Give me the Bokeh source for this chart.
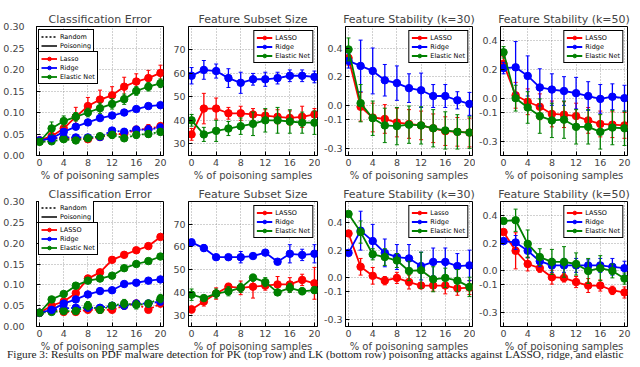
from bokeh.plotting import figure
from bokeh.models import (Legend, LegendItem, FixedTicker, Range1d, Div,
                          PrintfTickFormatter)
from bokeh.layouts import column, row
from bokeh.embed import file_html
from bokeh.resources import INLINE

# ---------------- data ----------------
x_pct = [0, 2, 4, 6, 8, 10, 12, 14, 16, 18, 20]
x_ticks = [0, 4, 8, 12, 16, 20]

titles = ["Classification Error", "Feature Subset Size",
          "Feature Stability (k=30)", "Feature Stability (k=50)"]
x_label = "% of poisoning samples"
caption = ("Figure 3: Results on PDF malware detection for PK (top row) and LK (bottom row) "
           "poisoning attacks against LASSO, ridge, and elastic")

ce_ticks = [0.0, 0.05, 0.10, 0.15, 0.20, 0.25, 0.30]
fs_ticks = [30, 40, 50, 60, 70]
st_ticks = [0.4, 0.2, 0.0, -0.1, -0.3]

# ---- top row (PK) ----
ce1_lasso_p = [0.035, 0.045, 0.063, 0.090, 0.115, 0.130, 0.140, 0.160, 0.172, 0.180, 0.192]
ce1_lasso_p_err = [0.004, 0.008, 0.010, 0.022, 0.020, 0.022, 0.020, 0.022, 0.018, 0.018, 0.018]
ce1_ridge_p = [0.035, 0.040, 0.055, 0.067, 0.077, 0.087, 0.093, 0.100, 0.108, 0.115, 0.117]
ce1_ridge_p_err = [0.003, 0.004, 0.004, 0.004, 0.004, 0.005, 0.004, 0.004, 0.003, 0.004, 0.003]
ce1_enet_p = [0.032, 0.063, 0.080, 0.090, 0.100, 0.110, 0.120, 0.131, 0.150, 0.160, 0.168]
ce1_enet_p_err = [0.004, 0.015, 0.012, 0.010, 0.010, 0.012, 0.012, 0.012, 0.010, 0.010, 0.010]
ce1_lasso_r = [0.035, 0.040, 0.040, 0.040, 0.038, 0.043, 0.050, 0.050, 0.060, 0.062, 0.068]
ce1_lasso_r_err = [0.003, 0.004, 0.006, 0.005, 0.006, 0.006, 0.008, 0.010, 0.008, 0.010, 0.008]
ce1_ridge_r = [0.035, 0.040, 0.042, 0.042, 0.042, 0.043, 0.058, 0.055, 0.060, 0.060, 0.065]
ce1_ridge_r_err = [0.003, 0.004, 0.005, 0.005, 0.005, 0.006, 0.006, 0.008, 0.008, 0.010, 0.008]
ce1_enet_r = [0.032, 0.033, 0.038, 0.035, 0.040, 0.045, 0.048, 0.040, 0.048, 0.050, 0.055]
ce1_enet_r_err = [0.003, 0.004, 0.005, 0.005, 0.006, 0.006, 0.008, 0.006, 0.008, 0.008, 0.008]

fs1_lasso = [34, 45, 45, 43, 43, 42.5, 42, 41.5, 41, 41.5, 42.5]
fs1_lasso_err = [2.5, 6.5, 4.5, 2.5, 3, 2.5, 2.5, 3, 3, 4.5, 2.5]
fs1_ridge = [59, 61.5, 61, 58, 56, 57.5, 57.5, 58, 59, 59, 58.5]
fs1_ridge_err = [3.5, 4, 3, 4, 4.5, 2.5, 3, 2.5, 2.5, 2.5, 2.5]
fs1_enet = [40, 34, 35.5, 36.5, 37.5, 38.5, 40, 40, 39.5, 39, 39]
fs1_enet_err = [2.5, 3, 4.5, 3, 3.5, 5, 5, 5.5, 5, 4.5, 5]

s30_1_lasso = [0.33, -0.01, -0.085, -0.095, -0.12, -0.13, -0.14, -0.16, -0.18, -0.185, -0.19]
s30_1_lasso_err = [0.05, 0.10, 0.10, 0.10, 0.10, 0.10, 0.10, 0.10, 0.10, 0.10, 0.10]
s30_1_ridge = [0.31, 0.275, 0.24, 0.175, 0.155, 0.12, 0.105, 0.065, 0.065, 0.035, 0.01]
s30_1_ridge_err = [0.05, 0.18, 0.16, 0.11, 0.12, 0.10, 0.12, 0.08, 0.08, 0.06, 0.08]
s30_1_enet = [0.39, 0.015, -0.09, -0.14, -0.145, -0.135, -0.14, -0.16, -0.175, -0.185, -0.19]
s30_1_enet_err = [0.08, 0.13, 0.12, 0.12, 0.13, 0.13, 0.13, 0.13, 0.13, 0.12, 0.11]

s50_1_lasso = [0.24, 0.02, -0.025, -0.06, -0.11, -0.115, -0.125, -0.155, -0.18, -0.185, -0.19]
s50_1_lasso_err = [0.05, 0.09, 0.09, 0.09, 0.09, 0.09, 0.09, 0.09, 0.09, 0.09, 0.09]
s50_1_ridge = [0.21, 0.215, 0.155, 0.075, 0.06, 0.05, 0.035, 0.015, -0.005, 0.01, 0.0]
s50_1_ridge_err = [0.04, 0.18, 0.14, 0.13, 0.11, 0.10, 0.11, 0.10, 0.10, 0.09, 0.09]
s50_1_enet = [0.32, 0.0, -0.065, -0.125, -0.155, -0.15, -0.2, -0.2, -0.235, -0.205, -0.21]
s50_1_enet_err = [0.04, 0.09, 0.11, 0.12, 0.12, 0.13, 0.12, 0.12, 0.12, 0.12, 0.12]

# ---- bottom row (LK) ----
ce2_lasso_p = [0.033, 0.050, 0.060, 0.080, 0.115, 0.130, 0.160, 0.172, 0.183, 0.193, 0.215]
ce2_lasso_p_err = [0.003, 0.004, 0.005, 0.005, 0.008, 0.006, 0.004, 0.003, 0.003, 0.003, 0.003]
ce2_ridge_p = [0.033, 0.040, 0.055, 0.065, 0.077, 0.085, 0.087, 0.102, 0.105, 0.110, 0.113]
ce2_ridge_p_err = [0.003, 0.003, 0.003, 0.003, 0.003, 0.003, 0.003, 0.003, 0.003, 0.003, 0.003]
ce2_enet_p = [0.033, 0.065, 0.078, 0.098, 0.110, 0.115, 0.122, 0.140, 0.150, 0.157, 0.168]
ce2_enet_p_err = [0.003, 0.004, 0.004, 0.006, 0.006, 0.005, 0.004, 0.006, 0.004, 0.004, 0.004]
ce2_lasso_r = [0.033, 0.040, 0.035, 0.035, 0.040, 0.040, 0.040, 0.050, 0.055, 0.040, 0.055]
ce2_lasso_r_err = [0.003, 0.004, 0.005, 0.005, 0.006, 0.006, 0.005, 0.008, 0.008, 0.006, 0.008]
ce2_ridge_r = [0.033, 0.040, 0.043, 0.045, 0.045, 0.045, 0.050, 0.050, 0.055, 0.055, 0.060]
ce2_ridge_r_err = [0.003, 0.004, 0.005, 0.005, 0.006, 0.006, 0.006, 0.008, 0.008, 0.008, 0.008]
ce2_enet_r = [0.033, 0.035, 0.037, 0.037, 0.050, 0.040, 0.050, 0.055, 0.052, 0.055, 0.067]
ce2_enet_r_err = [0.003, 0.004, 0.005, 0.005, 0.010, 0.008, 0.006, 0.010, 0.010, 0.008, 0.010]

fs2_lasso = [32.5, 36, 39.5, 42.5, 42, 42.5, 43, 43.5, 43.5, 45.5, 44]
fs2_lasso_err = [1.5, 2, 2.5, 1.5, 3, 5, 2, 3.5, 3, 2.5, 7]
fs2_ridge = [62, 59.5, 55.5, 55.5, 55.5, 56, 57.5, 53.5, 57, 56.5, 57]
fs2_ridge_err = [1.5, 1.5, 1, 1, 2.5, 1, 1, 1, 4, 2.5, 4]
fs2_enet = [39, 37.5, 39.5, 40.5, 42, 46.5, 44.5, 40, 42, 40.5, 41]
fs2_enet_err = [2.5, 1, 2, 2, 2, 1.5, 2, 1, 2, 1.5, 1.5]

s30_2_lasso = [0.32, 0.08, 0.015, -0.02, 0.0, -0.03, -0.055, -0.055, -0.055, -0.075, -0.07]
s30_2_lasso_err = [0.02, 0.06, 0.06, 0.03, 0.04, 0.05, 0.02, 0.04, 0.06, 0.05, 0.05]
s30_2_ridge = [0.18, 0.34, 0.265, 0.18, 0.15, 0.14, 0.085, 0.115, 0.115, 0.085, 0.09]
s30_2_ridge_err = [0.02, 0.14, 0.12, 0.10, 0.09, 0.10, 0.10, 0.10, 0.10, 0.09, 0.11]
s30_2_enet = [0.46, 0.33, 0.17, 0.15, 0.125, 0.05, 0.055, -0.01, 0.0, -0.02, -0.065]
s30_2_enet_err = [0.02, 0.08, 0.04, 0.06, 0.05, 0.07, 0.13, 0.09, 0.07, 0.08, 0.07]

s50_2_lasso = [0.28, 0.145, 0.05, 0.02, -0.045, -0.05, -0.08, -0.105, -0.105, -0.14, -0.155]
s50_2_lasso_err = [0.02, 0.13, 0.05, 0.03, 0.05, 0.03, 0.04, 0.05, 0.04, 0.03, 0.04]
s50_2_ridge = [0.215, 0.205, 0.145, 0.07, 0.04, 0.04, 0.04, 0.04, 0.04, 0.03, 0.02]
s50_2_ridge_err = [0.02, 0.05, 0.05, 0.04, 0.05, 0.05, 0.05, 0.04, 0.05, 0.06, 0.05]
s50_2_enet = [0.36, 0.365, 0.195, 0.10, 0.065, 0.065, 0.05, 0.0, 0.02, 0.0, -0.055]
s50_2_enet_err = [0.02, 0.08, 0.10, 0.06, 0.09, 0.11, 0.08, 0.09, 0.09, 0.05, 0.04]

RED, BLUE, GREEN = "#ff0000", "#0000ff", "#008000"
FONT = "DejaVu Sans"

# ---------------- layout geometry ----------------
widths = [170, 150, 155, 165]
lefts = [33, 17, 22, 22]
rights = [7, 3, 3, 13]
ROW_TOP = [26, 14]
ROW_BOTTOM = [30, 26]
FRAME_H = 129


def make_fig(r, col, title, yr, yticks, yfmt, ystandoff=3):
    p = figure(width=widths[col], height=ROW_TOP[r] + FRAME_H + ROW_BOTTOM[r],
               x_range=Range1d(-0.5, 20.5), y_range=Range1d(*yr),
               output_backend="svg", toolbar_location=None, title=title,
               min_border_left=lefts[col], min_border_right=rights[col],
               min_border_top=ROW_TOP[r], min_border_bottom=ROW_BOTTOM[r])
    p.border_fill_alpha = 0
    p.title.text_font = FONT
    p.title.text_font_size = "11px"
    p.title.text_font_style = "normal"
    p.title.align = "center"
    p.title.standoff = 1
    p.title.offset = 0
    for ax in (p.xaxis[0], p.yaxis[0]):
        ax.major_tick_in = 4
        ax.major_tick_out = 0
        ax.minor_tick_line_color = None
        ax.major_label_text_font = FONT
        ax.major_label_text_font_size = "9.5px"
        ax.major_label_standoff = 3
        ax.axis_line_color = "black"
        ax.major_tick_line_color = "black"
    p.yaxis.major_label_standoff = ystandoff
    p.xaxis.ticker = FixedTicker(ticks=x_ticks)
    p.xaxis.axis_label = x_label
    p.xaxis.axis_label_text_font = FONT
    p.xaxis.axis_label_text_font_size = "10px"
    p.xaxis.axis_label_text_font_style = "normal"
    p.xaxis.axis_label_standoff = 1
    p.yaxis.ticker = FixedTicker(ticks=yticks)
    p.yaxis.formatter = PrintfTickFormatter(format=yfmt)
    p.grid.grid_line_color = "#8c8c8c"
    p.grid.grid_line_dash = "1 2"
    p.grid.grid_line_width = 0.8
    p.outline_line_color = "black"
    p.outline_line_width = 1
    p.outline_line_alpha = 1
    return p


def series(p, y, err, color, dash="solid"):
    lo = [a - b for a, b in zip(y, err)]
    hi = [a + b for a, b in zip(y, err)]
    p.segment(x0=x_pct, y0=lo, x1=x_pct, y1=hi, line_color=color, line_width=1.3)
    p.scatter(x_pct, lo, marker="dash", size=4, line_color=color, line_width=1)
    p.scatter(x_pct, hi, marker="dash", size=4, line_color=color, line_width=1)
    ln = p.line(x_pct, y, line_color=color, line_width=1.8, line_dash=dash)
    sc = p.scatter(x_pct, y, size=7.5, fill_color=color, line_color=color)
    return [ln, sc]


def style_legend(leg, margin):
    leg.border_line_color = "black"
    leg.border_line_width = 1
    leg.border_line_alpha = 1
    leg.background_fill_color = "white"
    leg.background_fill_alpha = 1
    leg.label_text_font = FONT
    leg.label_text_font_size = "6.5px"
    leg.label_text_color = "black"
    leg.glyph_width = 16
    leg.glyph_height = 9
    leg.label_height = 9
    leg.label_standoff = 3
    leg.spacing = 0
    leg.padding = 2
    leg.margin = margin
    return leg


def method_legend(p, items, names, location, margin=4):
    leg = Legend(items=[LegendItem(label=n, renderers=r) for n, r in zip(names, items)],
                 location=location)
    p.add_layout(style_legend(leg, margin))


def ce_panel(r, data, names):
    (lp, lpe, rp, rpe, ep, epe, lr, lre, rr, rre, er, ere) = data
    p = make_fig(r, 0, titles[0], (0.0, 0.30), ce_ticks, "%.2f", ystandoff=12)
    series(p, lr, lre, RED, "2 2")
    series(p, rr, rre, BLUE, "2 2")
    series(p, er, ere, GREEN, "2 2")
    a = series(p, lp, lpe, RED)
    b = series(p, rp, rpe, BLUE)
    c = series(p, ep, epe, GREEN)
    # key-only black lines for the line-style legend: drawn on an off-screen range
    p.extra_y_ranges = {"key": Range1d(start=1.0, end=2.0)}
    d_rand = p.line(x_pct, lr, line_color="black", line_width=1.5, line_dash="2 2",
                    y_range_name="key")
    d_pois = p.line(x_pct, lp, line_color="black", line_width=1.5, y_range_name="key")
    leg1 = Legend(items=[LegendItem(label="Random", renderers=[d_rand]),
                         LegendItem(label="Poisoning", renderers=[d_pois])],
                  location=(2, FRAME_H - 5 - 22))
    p.add_layout(style_legend(leg1, 0))
    method_legend(p, [a, b, c], names, (2, FRAME_H - 27 - 31), 0)
    return p


def fs_panel(r, l, le, rr, re_, e, ee, names):
    p = make_fig(r, 1, titles[1], (25, 80), fs_ticks, "%d")
    a = series(p, l, le, RED)
    b = series(p, rr, re_, BLUE)
    c = series(p, e, ee, GREEN)
    method_legend(p, [a, b, c], names, "top_right")
    return p


def st_panel(r, col, yr, l, le, rr, re_, e, ee, names):
    p = make_fig(r, col, titles[col], yr, st_ticks, "%.1f")
    a = series(p, l, le, RED)
    b = series(p, rr, re_, BLUE)
    c = series(p, e, ee, GREEN)
    method_legend(p, [a, b, c], names, "top_right")
    return p


N_UP = ["LASSO", "Ridge", "Elastic Net"]
N_LO = ["Lasso", "Ridge", "Elastic Net"]

row1 = row(
    ce_panel(0, [ce1_lasso_p, ce1_lasso_p_err, ce1_ridge_p, ce1_ridge_p_err, ce1_enet_p, ce1_enet_p_err,
                 ce1_lasso_r, ce1_lasso_r_err, ce1_ridge_r, ce1_ridge_r_err, ce1_enet_r, ce1_enet_r_err], N_LO),
    fs_panel(0, fs1_lasso, fs1_lasso_err, fs1_ridge, fs1_ridge_err, fs1_enet, fs1_enet_err, N_UP),
    st_panel(0, 2, (-0.35, 0.55), s30_1_lasso, s30_1_lasso_err, s30_1_ridge, s30_1_ridge_err,
             s30_1_enet, s30_1_enet_err, N_UP),
    st_panel(0, 3, (-0.4, 0.5), s50_1_lasso, s50_1_lasso_err, s50_1_ridge, s50_1_ridge_err,
             s50_1_enet, s50_1_enet_err, N_UP),
)
row2 = row(
    ce_panel(1, [ce2_lasso_p, ce2_lasso_p_err, ce2_ridge_p, ce2_ridge_p_err, ce2_enet_p, ce2_enet_p_err,
                 ce2_lasso_r, ce2_lasso_r_err, ce2_ridge_r, ce2_ridge_r_err, ce2_enet_r, ce2_enet_r_err], N_UP),
    fs_panel(1, fs2_lasso, fs2_lasso_err, fs2_ridge, fs2_ridge_err, fs2_enet, fs2_enet_err, N_UP),
    st_panel(1, 2, (-0.35, 0.55), s30_2_lasso, s30_2_lasso_err, s30_2_ridge, s30_2_ridge_err,
             s30_2_enet, s30_2_enet_err, N_LO),
    st_panel(1, 3, (-0.4, 0.5), s50_2_lasso, s50_2_lasso_err, s50_2_ridge, s50_2_ridge_err,
             s50_2_enet, s50_2_enet_err, N_UP),
)

cap = Div(text=caption, width=640, height=18,
          styles={"overflow": "hidden", "margin-top": "-5px",
                  "font-family": "Liberation Serif",
                  "font-size": "11.3px", "line-height": "11px", "white-space": "nowrap",
                  "padding-left": "2px", "color": "#222222"})

layout = column(row1, row2, cap)

open("out.html", "w").write(file_html(layout, INLINE))
